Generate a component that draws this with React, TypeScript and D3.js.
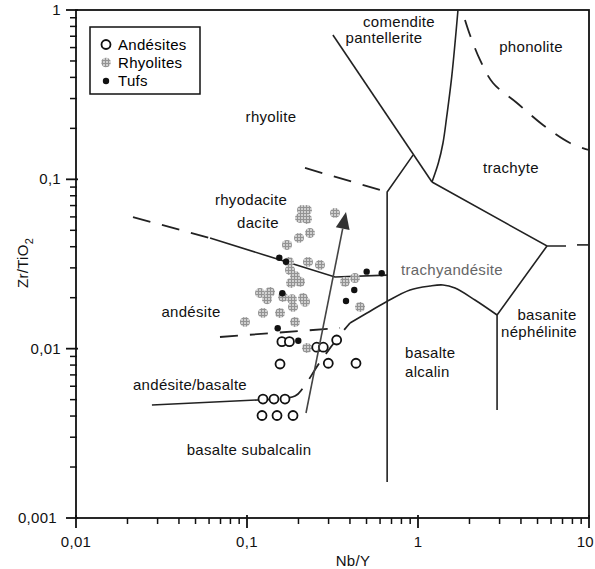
import React from "react";
import * as d3 from "d3";

type P = [number, number];

// Data (Nb/Y, Zr/TiO2)
const andesites: P[] = [
  [0.16, 0.011], [0.177, 0.011], [0.156, 0.00812], [0.2557, 0.0102], [0.2794, 0.0102],
  [0.3345, 0.01125], [0.2988, 0.0082], [0.4339, 0.0082], [0.124, 0.00504], [0.1438, 0.00504],
  [0.1668, 0.00504], [0.1224, 0.00403], [0.1498, 0.00403], [0.1858, 0.00403],
];
const rhyolites: P[] = [
  [0.2042, 0.0591], [0.2154, 0.0624], [0.2243, 0.0659], [0.2098, 0.0659], [0.2243, 0.0583],
  [0.327, 0.0633], [0.2336, 0.0482], [0.2014, 0.045], [0.1713, 0.041], [0.2273, 0.0325],
  [0.2673, 0.0312], [0.1785, 0.0291], [0.1909, 0.0269], [0.1809, 0.0244], [0.2042, 0.0248],
  [0.3742, 0.0248], [0.4281, 0.0261], [0.1191, 0.0213], [0.1363, 0.0216], [0.1624, 0.0202],
  [0.1833, 0.0196], [0.2126, 0.0199], [0.1309, 0.0196], [0.2184, 0.0189], [0.124, 0.01624],
  [0.0973, 0.01438], [0.156, 0.01624], [0.1858, 0.01762], [0.1909, 0.01438], [0.4579, 0.01762],
  [0.2243, 0.0101], [0.176, 0.0325],
];
const tufs: P[] = [
  [0.1545, 0.03446], [0.169, 0.0326], [0.1609, 0.02123], [0.501, 0.0285], [0.6134, 0.02787],
  [0.424, 0.0222], [0.3793, 0.01912], [0.1512, 0.0132], [0.1995, 0.01114],
];

// Field boundaries
const solidLines: P[][] = [
  [[0.318, 0.712], [1.207, 0.0964]],
  [[1.207, 0.0964], [5.68, 0.0404], [7.34, 0.0404]],
  [[8.51, 0.041], [10, 0.041]],
  [[5.68, 0.0404], [2.9, 0.0158], [2.9, 0.00434]],
  [[0.935, 0.139], [0.66, 0.0842], [0.66, 0.00163]],
  [[0.0608, 0.045], [0.327, 0.0265], [0.66, 0.0272]],
  [[0.0278, 0.00465], [0.116, 0.00498]],
];
const solidCurves: P[][] = [
  [[2.9, 0.0158], [2.154, 0.01938], [1.646, 0.0228], [1.4, 0.02377], [1.175, 0.02345],
   [0.898, 0.0222], [0.65, 0.01886], [0.5033, 0.01624], [0.4003, 0.01418]],
  [[1.207, 0.0964], [1.314, 0.1244], [1.4, 0.1639], [1.472, 0.2344], [1.575, 0.404], [1.713, 1]],
];
const dashedLines: P[][] = [
  [[0.2184, 0.1167], [0.66, 0.0842]],
  [[0.02154, 0.0599], [0.0608, 0.045]],
  [[0.0695, 0.01172], [0.35, 0.01325]],
];
const dashedCurves: P[][] = [
  [[0.116, 0.00498], [0.1909, 0.00525], [0.2126, 0.00586], [0.2673, 0.00834], [0.35, 0.01204], [0.4003, 0.01418]],
  [[1.883, 0.873], [2.014, 0.7118], [2.305, 0.507], [2.746, 0.3707], [3.793, 0.2823],
   [5.383, 0.2094], [7.743, 0.1639], [10, 0.149]],
];
const arrow: P[] = [[0.2213, 0.00417], [0.3793, 0.0641]];

const xTicks = [0.01, 0.1, 1, 10];
const xTickLabels = ["0,01", "0,1", "1", "10"];
const yTicks = [0.001, 0.01, 0.1, 1];
const yTickLabels = ["0,001", "0,01", "0,1", "1"];

const fieldLabels: { t: string; x: number; y: number; a?: string; c?: string }[] = [
  { t: "rhyolite", x: 271, y: 122 },
  { t: "comendite", x: 399, y: 27 },
  { t: "pantellerite", x: 384, y: 43 },
  { t: "phonolite", x: 531, y: 52 },
  { t: "trachyte", x: 511, y: 173 },
  { t: "rhyodacite", x: 251, y: 205 },
  { t: "dacite", x: 258, y: 228 },
  { t: "andésite", x: 191, y: 317 },
  { t: "trachyandésite", x: 452, y: 275, c: "#666" },
  { t: "basanite", x: 547, y: 320 },
  { t: "néphélinite", x: 539, y: 337 },
  { t: "basalte", x: 405, y: 358, a: "start" },
  { t: "alcalin", x: 405, y: 377, a: "start" },
  { t: "andésite/basalte", x: 190, y: 390 },
  { t: "basalte subalcalin", x: 249, y: 455 },
];

const W = 595, H = 569;
const x = d3.scaleLog().domain([0.01, 10]).range([76, 589]);
const y = d3.scaleLog().domain([0.001, 1]).range([518, 10]);

const FONT = "'Liberation Sans', Arial, sans-serif";

export default function App() {
  const line = d3.line<P>().x(d => x(d[0])).y(d => y(d[1]));
  const curve = d3.line<P>().x(d => x(d[0])).y(d => y(d[1])).curve(d3.curveCatmullRom.alpha(0.5));

  const xMinor: number[] = [];
  [0.01, 0.1, 1].forEach(dd => { for (let k = 2; k <= 9; k++) xMinor.push(dd * k); });
  const yMinor: number[] = [];
  [0.001, 0.01, 0.1].forEach(dd => { for (let k = 2; k <= 9; k++) yMinor.push(dd * k); });

  // arrow head
  const ax0 = x(arrow[0][0]), ay0 = y(arrow[0][1]);
  const ax1 = x(arrow[1][0]), ay1 = y(arrow[1][1]);
  const len = Math.hypot(ax1 - ax0, ay1 - ay0);
  const ux = (ax1 - ax0) / len, uy = (ay1 - ay0) / len;
  const hl = 17, hw = 7;
  const bx = ax1 - ux * hl, by = ay1 - uy * hl;
  const head = `${ax1},${ay1} ${bx - uy * hw},${by + ux * hw} ${bx + uy * hw},${by - ux * hw}`;

  const stroke = "#222";

  return (
    <svg width={W} height={H} style={{ position: "absolute", left: 0, top: 0, background: "#fff" }}
      fontFamily={FONT} fontSize={15} letterSpacing={0.3}>
      <defs>
        <pattern id="hatch" width={3} height={3} patternUnits="userSpaceOnUse">
          <rect width={3} height={3} fill="#cfcfcf" />
          <rect width={3} height={1} fill="#939393" />
          <rect width={1} height={3} fill="#939393" />
        </pattern>
      </defs>
      <rect width={W} height={H} fill="#fff" />

      {/* frame */}
      <rect x={76} y={10} width={589 - 76} height={518 - 10} fill="none" stroke="#111" strokeWidth={1.8} />

      {/* x ticks */}
      {xMinor.map((v, i) => (
        <line key={"xm" + i} x1={x(v)} x2={x(v)} y1={518} y2={524} stroke="#111" strokeWidth={1.5} />
      ))}
      {xTicks.map((v, i) => (
        <g key={"xt" + i}>
          <line x1={x(v)} x2={x(v)} y1={515} y2={528} stroke="#111" strokeWidth={1.8} />
          <text x={i === 3 ? 594 : x(v)} y={547} textAnchor={i === 3 ? "end" : "middle"} fill="#111">{xTickLabels[i]}</text>
        </g>
      ))}
      {/* y ticks */}
      {yMinor.map((v, i) => (
        <line key={"ym" + i} x1={70} x2={77} y1={y(v)} y2={y(v)} stroke="#111" strokeWidth={1.5} />
      ))}
      {yTicks.map((v, i) => (
        <g key={"yt" + i}>
          <line x1={66} x2={78} y1={y(v)} y2={y(v)} stroke="#111" strokeWidth={1.8} />
          <text x={i === 0 ? 57 : 61} y={y(v) + 5} textAnchor="end" fill="#111">{yTickLabels[i]}</text>
        </g>
      ))}

      <text x={353} y={566} textAnchor="middle" fill="#111">Nb/Y</text>
      <text transform="translate(28,263) rotate(-90)" textAnchor="middle" fill="#111">
        Zr/TiO<tspan dy={5} fontSize={11}>2</tspan>
      </text>

      {/* boundaries */}
      {solidLines.map((l, i) => (
        <path key={"sl" + i} d={line(l) || ""} fill="none" stroke={stroke} strokeWidth={1.6} />
      ))}
      {solidCurves.map((l, i) => (
        <path key={"sc" + i} d={curve(l) || ""} fill="none" stroke={stroke} strokeWidth={1.6} />
      ))}
      {dashedLines.map((l, i) => (
        <path key={"dl" + i} d={line(l) || ""} fill="none" stroke={stroke} strokeWidth={1.8} strokeDasharray="18 12" />
      ))}
      {dashedCurves.map((l, i) => (
        <path key={"dc" + i} d={curve(l) || ""} fill="none" stroke={stroke} strokeWidth={1.8} strokeDasharray="18 12" />
      ))}

      {/* field labels */}
      {fieldLabels.map((l, i) => (
        <text key={"fl" + i} x={l.x} y={l.y} textAnchor={(l.a as any) || "middle"} fill={l.c || "#111"}>{l.t}</text>
      ))}

      {/* points */}
      {rhyolites.map((d, i) => (
        <circle key={"r" + i} cx={x(d[0])} cy={y(d[1])} r={5} fill="url(#hatch)" />
      ))}
      {andesites.map((d, i) => (
        <circle key={"a" + i} cx={x(d[0])} cy={y(d[1])} r={4.5} fill="#fff" stroke="#111" strokeWidth={1.8} />
      ))}
      {tufs.map((d, i) => (
        <circle key={"t" + i} cx={x(d[0])} cy={y(d[1])} r={3.2} fill="#111" />
      ))}

      {/* arrow */}
      <line x1={ax0} y1={ay0} x2={bx} y2={by} stroke="#444" strokeWidth={1.6} />
      <polygon points={head} fill="#333" />

      {/* legend */}
      <rect x={90} y={27} width={110} height={67} fill="#fff" stroke="#111" strokeWidth={1.5} />
      <circle cx={106} cy={44.5} r={4.5} fill="#fff" stroke="#111" strokeWidth={1.8} />
      <text x={118} y={50}>Andésites</text>
      <circle cx={106} cy={62.5} r={4.8} fill="url(#hatch)" />
      <text x={118} y={68}>Rhyolites</text>
      <circle cx={106} cy={81} r={3.2} fill="#111" />
      <text x={118} y={86}>Tufs</text>
    </svg>
  );
}
